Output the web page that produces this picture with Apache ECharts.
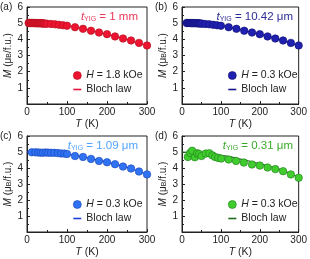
<!DOCTYPE html>
<html><head><meta charset="utf-8">
<script src="https://cdn.jsdelivr.net/npm/echarts@6/dist/echarts.min.js"></script>
<style>html,body{margin:0;padding:0;background:#fff}#c{width:310px;height:259px}</style>
</head><body><div id="c"></div>
<script>
// ---- data ----
const xTicks = [0, 100, 200, 300];
const yTicks = [1, 2, 3, 4, 5, 6];
const panelLabels = ['(a)', '(b)', '(c)', '(d)'];
const thickness = ['1 mm', '10.42 μm', '1.09 μm', '0.31 μm'];
const fields = ['1.8 kOe', '0.3 kOe', '0.3 kOe', '0.3 kOe'];

const aT = [4,6,8,10,12,14,16,18,20,22,24,26,28,30,32,34,36,38,40,43,46,50,60,70,80,90,100,120,140,160,180,200,220,240,260,280,300];
const aM = [5.01,5.01,5.01,5.01,5.01,5.01,5.01,5.01,5.00,5.00,5.00,5.00,5.00,5.00,5.00,4.99,4.99,4.99,4.98,4.98,4.97,4.97,4.95,4.93,4.90,4.87,4.84,4.75,4.65,4.53,4.42,4.32,4.18,4.05,3.93,3.78,3.62];

const bT = [12,15,18,21,24,27,30,33,36,39,42,45,48,52,60,70,80,90,100,120,140,160,180,200,220,240,260,280,300];
const bM = [5.01,5.01,5.01,5.01,5.00,5.00,5.00,5.00,5.00,4.99,4.99,4.98,4.98,4.97,4.95,4.93,4.90,4.87,4.84,4.75,4.65,4.53,4.42,4.32,4.18,4.05,3.93,3.78,3.62];

const cT = [12,21,28,34,40,47,53,60,68,77,85,93,100,120,140,160,180,200,220,240,260,280,300];
const cM = [4.98,4.98,4.97,4.96,4.96,4.97,4.96,4.95,4.95,4.93,4.91,4.90,4.88,4.75,4.69,4.57,4.44,4.36,4.24,4.09,3.97,3.78,3.60];

const dT = [15,21,26,33,39,44,50,61,70,78,85,93,101,120,139,159,180,200,220,240,260,280,300];
const dM = [4.69,4.94,5.08,4.67,4.92,4.88,4.75,4.90,4.92,4.79,4.69,4.63,4.59,4.53,4.44,4.34,4.22,4.15,4.03,3.93,3.80,3.60,3.39];

const fitT = [0,25,50,75,100,125,150,175,200,225,250,275,300];
const aFit = [5.01,5.00,4.97,4.92,4.85,4.74,4.60,4.46,4.31,4.15,3.98,3.80,3.62];
const bFit = [5.01,5.00,4.97,4.92,4.85,4.74,4.60,4.46,4.31,4.15,3.98,3.80,3.62];
const cFit = [5.00,4.99,4.96,4.92,4.86,4.76,4.64,4.51,4.37,4.21,4.04,3.83,3.60];
const dFit = [4.99,4.97,4.93,4.87,4.79,4.69,4.56,4.42,4.27,4.11,3.93,3.69,3.42];

// ---- styling ----
const pts = [[aT,aM],[bT,bM],[cT,cM],[dT,dM]];
const fits = [aFit,bFit,cFit,dFit];
const fill = ['#ec1430', '#1f1fb0', '#2f72f2', '#3fcc2c'];
const edge = ['#b0101f', '#101070', '#1a44b8', '#1f7a1f'];
const lineC = ['#e8163a', '#161690', '#1e3fd6', '#1e6a1e'];
const textC = ['#e8385a', '#2c2c96', '#4fa2ff', '#3aaa2a'];
const font = 'Liberation Sans, Arial, sans-serif';

const gridPos = [
  {left: 27, top: 7}, {left: 182, top: 7},
  {left: 27, top: 136}, {left: 182, top: 136}
];
const gw = 120, gh = 97;

const grid = [], xAxis = [], yAxis = [], series = [], title = [], legend = [];
for (let i = 0; i < 4; i++) {
  const g = gridPos[i];
  grid.push({left: g.left, top: g.top, width: gw, height: gh, show: true,
    borderColor: '#222', borderWidth: 1, backgroundColor: 'transparent'});
  xAxis.push({gridIndex: i, type: 'value', min: 0, max: 300, interval: 100,
    name: '{i|T} (K)', nameLocation: 'middle', nameGap: 15,
    nameTextStyle: {fontFamily: font, fontSize: 10.5, color: '#222',
      rich: {i: {fontStyle: 'italic', fontFamily: font, fontSize: 10.5, color: '#222'}}},
    axisLine: {lineStyle: {color: '#222'}},
    axisTick: {inside: true, length: 3, lineStyle: {color: '#222'}},
    minorTick: {show: true, splitNumber: 2, length: 2, lineStyle: {color: '#222'}},
    splitLine: {show: false},
    axisLabel: {fontFamily: font, fontSize: 10, color: '#222', margin: 3,
      formatter: v => xTicks.includes(v) ? String(v) : ''}
  });
  yAxis.push({gridIndex: i, type: 'value', min: 0, max: 6, interval: 1,
    name: '{i|M} (μ{s|B}/f.u.)', nameLocation: 'middle', nameGap: 14,
    nameTextStyle: {fontFamily: font, fontSize: 10, color: '#222',
      rich: {i: {fontStyle: 'italic', fontFamily: font, fontSize: 10, color: '#222'},
             s: {fontFamily: font, fontSize: 7, color: '#222', verticalAlign: 'bottom', lineHeight: 10}}},
    axisLine: {lineStyle: {color: '#222'}},
    axisTick: {inside: true, length: 3, lineStyle: {color: '#222'}},
    minorTick: {show: true, splitNumber: 2, length: 2, lineStyle: {color: '#222'}},
    splitLine: {show: false},
    axisLabel: {fontFamily: font, fontSize: 10, color: '#222', margin: 4,
      formatter: v => yTicks.includes(v) ? String(v) : ''}
  });
  const L = ['a','b','c','d'][i];
  series.push({type: 'line', name: 'fit' + L, xAxisIndex: i, yAxisIndex: i,
    data: fitT.map((t, k) => [t, fits[i][k]]), smooth: true, symbol: 'none',
    lineStyle: {color: lineC[i], width: 1.2}, itemStyle: {color: lineC[i]}, z: 2});
  series.push({type: 'scatter', name: 'pt' + L, xAxisIndex: i, yAxisIndex: i,
    data: pts[i][0].map((t, k) => [t, pts[i][1][k]]), symbolSize: 7.5,
    itemStyle: {color: fill[i], borderColor: edge[i], borderWidth: 0.6, opacity: 1}, z: 3});
  title.push({text: panelLabels[i], left: g.left - 27, top: g.top - 5,
    textStyle: {fontFamily: font, fontSize: 10, fontWeight: 'normal', color: '#222'}, padding: 0});
  title.push({text: '{i|t}{s|YIG} = ' + thickness[i], right: 310 - (g.left + gw) + 9, top: g.top + 4,
    textStyle: {fontFamily: font, fontSize: 11.5, fontWeight: 'normal', color: textC[i],
      rich: {i: {fontStyle: 'italic', fontFamily: font, fontSize: 11.5, color: textC[i]},
             s: {fontFamily: font, fontSize: 7, color: textC[i], verticalAlign: 'bottom', lineHeight: 11.5},
             }}, padding: 0});
  legend.push({data: [{name: 'pt' + L, icon: 'circle', itemStyle: {color: fill[i], borderColor: edge[i], borderWidth: 0.6}},
                      {name: 'fit' + L, icon: 'path://M0,0L10,0L10,2L0,2Z', itemStyle: {color: lineC[i]}}],
    orient: 'vertical',
    left: g.left + 46, top: g.top + 63, itemWidth: 8, itemHeight: 8, itemGap: 3, padding: 0,
    formatter: n => n.startsWith('pt') ? '{i|H} = ' + fields[i] : 'Bloch law',
    textStyle: {fontFamily: font, fontSize: 10.5, color: '#222',
      rich: {i: {fontStyle: 'italic', fontFamily: font, fontSize: 10.5, color: '#222'}}},
    selectedMode: false});
}

const chart = echarts.init(document.getElementById('c'), null, {renderer: 'canvas'});
chart.setOption({animation: false, grid, xAxis, yAxis, series, title, legend});
</script></body></html>
